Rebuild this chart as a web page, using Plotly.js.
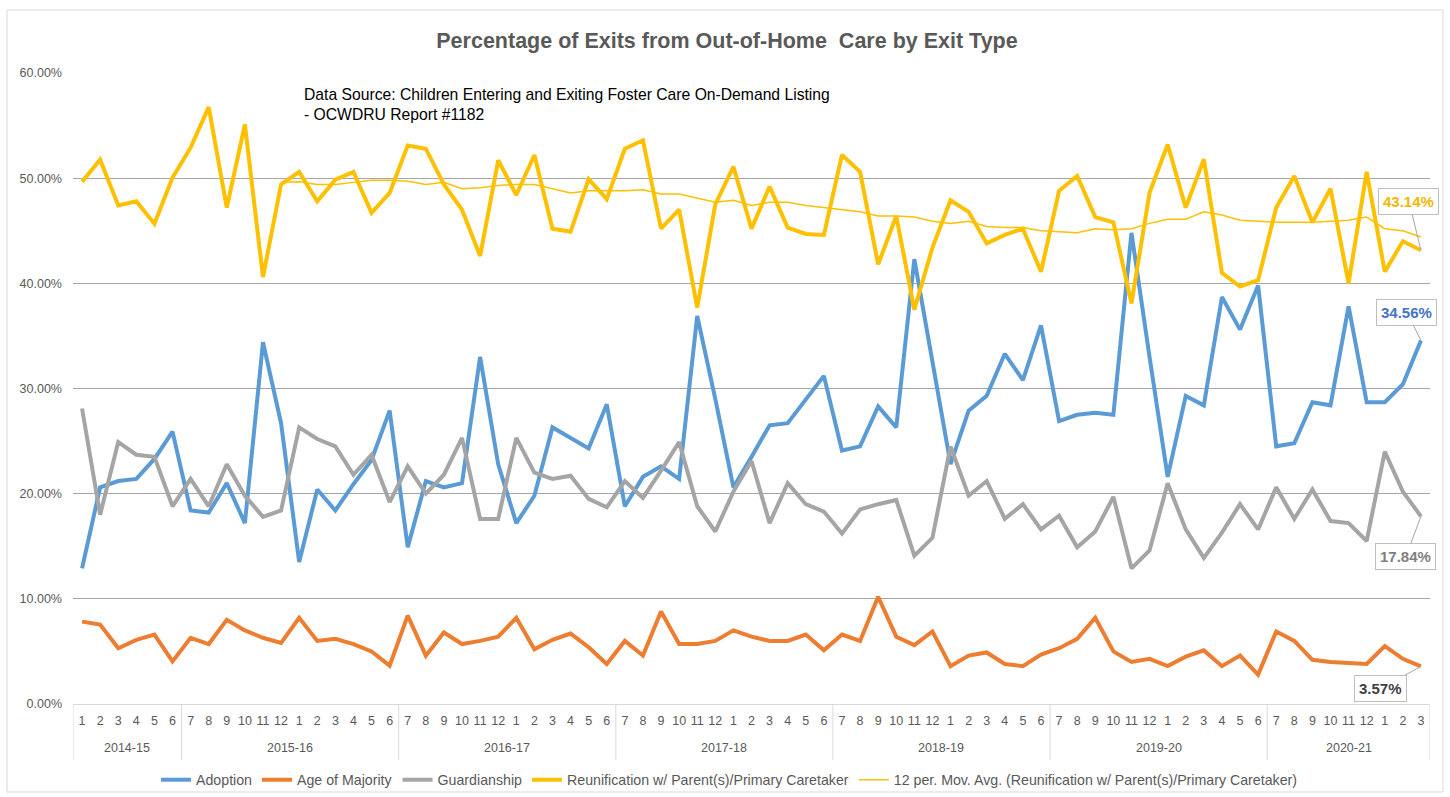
<!DOCTYPE html>
<html>
<head>
<meta charset="utf-8">
<script src="https://cdn.plot.ly/plotly-3.0.1.min.js"></script>
<style>
  html, body { margin: 0; padding: 0; background: #ffffff; }
  #chart { width: 1450px; height: 797px; }
</style>
</head>
<body>
<div id="chart"></div>
<script>
// ---- Data (percent values) ----
const fiscalYears = ['2014-15', '2015-16', '2016-17', '2017-18', '2018-19', '2019-20', '2020-21'];
const fullYearMonths = ['7', '8', '9', '10', '11', '12', '1', '2', '3', '4', '5', '6'];
const firstYearMonths = ['1', '2', '3', '4', '5', '6'];
const lastYearMonths = ['7', '8', '9', '10', '11', '12', '1', '2', '3'];

const adoption = [12.9, 20.6, 21.2, 21.4, 23.3, 25.9, 18.4, 18.2, 21.0, 17.2, 34.4, 26.7,
  13.5, 20.4, 18.4, 20.9, 23.2, 27.9, 14.9, 21.2, 20.6, 21.0, 33.0, 22.8, 17.2,
  19.8, 26.3, 25.3, 24.3, 28.5, 18.8, 21.6, 22.6, 21.4, 36.9, 29.0, 20.6, 23.5,
  26.5, 26.7, 28.9, 31.2, 24.1, 24.5, 28.3, 26.3, 42.3, 32.5, 22.8, 27.9, 29.3,
  33.3, 30.8, 36.0, 26.9, 27.5, 27.7, 27.5, 44.8, 33.0, 21.6, 29.3, 28.4, 38.7,
  35.6, 39.8, 24.5, 24.8, 28.7, 28.4, 37.8, 28.7, 28.7, 30.4, 34.56];

const ageOfMajority = [7.83, 7.55, 5.3, 6.1, 6.6, 4.05, 6.3, 5.7, 8.0, 7.0, 6.3, 5.8,
  8.2, 6.0, 6.2, 5.7, 5.0, 3.65, 8.4, 4.6, 6.8, 5.7, 6.0, 6.4, 8.2,
  5.2, 6.1, 6.7, 5.4, 3.8, 6.0, 4.6, 8.8, 5.7, 5.7, 6.0, 7.0, 6.4,
  6.0, 6.0, 6.6, 5.1, 6.6, 6.0, 10.2, 6.4, 5.6, 6.9, 3.6, 4.6, 4.9,
  3.8, 3.6, 4.7, 5.3, 6.2, 8.2, 5.0, 4.0, 4.3, 3.6, 4.5, 5.1, 3.6,
  4.6, 2.8, 6.9, 6.0, 4.2, 4.0, 3.9, 3.8, 5.5, 4.3, 3.57];

const guardianship = [28.1, 18.0, 24.9, 23.7, 23.5, 18.8, 21.4, 18.8, 22.8, 19.8, 17.8, 18.4,
  26.3, 25.2, 24.5, 21.8, 23.7, 19.2, 22.6, 20.0, 21.8, 25.3, 17.6, 17.6, 25.3,
  22.0, 21.4, 21.7, 19.5, 18.7, 21.2, 19.6, 22.2, 24.9, 18.8, 16.4, 20.2, 23.1,
  17.2, 21.0, 19.0, 18.3, 16.2, 18.5, 19.0, 19.4, 14.1, 15.8, 24.5, 19.8, 21.2,
  17.6, 19.0, 16.6, 17.9, 14.9, 16.4, 19.7, 12.9, 14.6, 21.0, 16.6, 13.9, 16.3,
  19.0, 16.6, 20.6, 17.6, 20.4, 17.4, 17.2, 15.5, 24.0, 20.2, 17.84];

const reunification = [49.65, 51.76, 47.4, 47.8, 45.67, 50.05, 52.9, 56.75, 47.2, 55.1, 40.6, 49.4,
  50.6, 47.8, 49.85, 50.6, 46.7, 48.6, 53.1, 52.8, 49.4, 47.0, 42.6, 51.7, 48.4,
  52.2, 45.2, 44.9, 49.9, 48.0, 52.8, 53.6, 45.2, 47.0, 37.7, 47.5, 51.1, 45.2,
  49.2, 45.3, 44.7, 44.6, 52.2, 50.6, 41.8, 46.4, 37.5, 43.4, 47.9, 46.8, 43.8,
  44.6, 45.2, 41.1, 48.8, 50.2, 46.3, 45.8, 38.1, 48.6, 53.2, 47.2, 51.8, 41.0,
  39.7, 40.3, 47.2, 50.2, 45.8, 49.0, 40.0, 50.6, 41.1, 44.0, 43.14];

const movingAvg = [null, null, null, null, null, null, null, null, null, null, null,
  49.6, 49.65, 49.4, 49.4, 49.6, 49.8, 49.8, 49.7, 49.4, 49.6,
  49.0, 49.1, 49.3, 49.4, 49.4, 49.0, 48.6, 48.8, 48.8, 48.8,
  48.9, 48.5, 48.5, 48.1, 47.7, 47.9, 47.4, 47.7, 47.7, 47.4,
  47.2, 47.0, 46.8, 46.4, 46.4, 46.3, 45.9, 45.7, 45.9, 45.4,
  45.3, 45.3, 45.0, 44.9, 44.8, 45.2, 45.1, 45.2, 45.7, 46.1,
  46.1, 46.8, 46.5, 46.0, 45.9, 45.8, 45.8, 45.8, 45.9, 46.0,
  46.3, 45.2, 45.0, 44.4];

// ---- Build the two-level category positions ----
const monthsByYear = fiscalYears.map(function (fy, i) {
  if (i === 0) return firstYearMonths;
  if (i === fiscalYears.length - 1) return lastYearMonths;
  return fullYearMonths;
});
const monthLevel = [];
const groupStarts = [];
fiscalYears.forEach(function (fy, i) {
  groupStarts.push(monthLevel.length);
  monthsByYear[i].forEach(function (m) { monthLevel.push(m); });
});
const xIdx = monthLevel.map(function (m, i) { return i; });
const nCats = monthLevel.length;

const FONT = 'Liberation Sans, Arial, sans-serif';
const TXT = '#595959';
const C_BLUE = '#5b9bd5', C_ORANGE = '#ed7d31', C_GRAY = '#a5a5a5', C_YELLOW = '#ffc000';

function lineTrace(name, y, color, width) {
  return { type: 'scatter', mode: 'lines', name: name, x: xIdx, y: y,
    line: { color: color, width: width }, connectgaps: false, hoverinfo: 'skip' };
}

const traces = [
  lineTrace('Adoption', adoption, C_BLUE, 4),
  lineTrace('Age of Majority', ageOfMajority, C_ORANGE, 4),
  lineTrace('Guardianship', guardianship, C_GRAY, 4),
  lineTrace('Reunification w/ Parent(s)/Primary Caretaker', reunification, C_YELLOW, 4),
  lineTrace('12 per. Mov. Avg. (Reunification w/ Parent(s)/Primary Caretaker)', movingAvg, C_YELLOW, 1.5)
];

const lastIdx = nCats - 1;
function endLabel(series, color, ax, ay) {
  const v = series[series.length - 1];
  return {
    xref: 'x', yref: 'y', x: lastIdx, y: v,
    text: '<b>' + v.toFixed(2) + '%</b>',
    font: { family: FONT, size: 15, color: color },
    showarrow: true, arrowhead: 0, arrowwidth: 1, arrowcolor: '#a6a6a6',
    ax: ax, ay: ay, standoff: 0,
    bgcolor: '#ffffff', bordercolor: '#bfbfbf', borderwidth: 1, borderpad: 4
  };
}

// Plot area geometry (pixels) used to place paper-referenced items
const PL = 73, PR = 1430, PT = 73, PB = 704;
const PW = PR - PL, PH = PB - PT;
function py(pix) { return (PB - pix) / PH; }
function px(pix) { return (pix - PL) / PW; }

// fiscal-year group labels and dividers
const yearAnnots = fiscalYears.map(function (fy, i) {
  const start = groupStarts[i];
  const end = (i + 1 < groupStarts.length ? groupStarts[i + 1] : nCats) - 1;
  return {
    xref: 'x', yref: 'paper', x: (start + end) / 2, y: py(748),
    text: fy, showarrow: false, xanchor: 'center', yanchor: 'middle',
    font: { family: FONT, size: 12.5, color: TXT }
  };
});
const dividerPositions = groupStarts.map(function (s) { return s - 0.5; }).concat([nCats - 0.5]);
const dividers = dividerPositions.map(function (xv) {
  return { type: 'line', xref: 'x', yref: 'paper', x0: xv, x1: xv, y0: 0, y1: py(760),
    line: { color: '#d9d9d9', width: 1 } };
});

const layout = {
  width: 1450, height: 797,
  paper_bgcolor: '#ffffff', plot_bgcolor: '#ffffff',
  margin: { l: PL, r: 1450 - PR, t: PT, b: 797 - PB, autoexpand: false },
  font: { family: FONT, color: TXT },
  title: {
    text: '<b>Percentage of Exits from Out-of-Home  Care by Exit Type</b>',
    font: { family: FONT, size: 21.5, color: TXT },
    xref: 'container', x: 727 / 1450, xanchor: 'center',
    yref: 'container', y: 1 - 40 / 797, yanchor: 'middle'
  },
  xaxis: {
    type: 'linear', range: [-0.5, nCats - 0.5],
    tickmode: 'array', tickvals: xIdx, ticktext: monthLevel,
    showgrid: false, zeroline: false,
    showline: true, linecolor: '#d9d9d9', linewidth: 1,
    ticks: '', ticklabelstandoff: 5, automargin: false,
    tickfont: { family: FONT, size: 12.5, color: TXT }
  },
  yaxis: {
    range: [0, 60], dtick: 10, tick0: 0,
    tickformat: '.2f', ticksuffix: '%',
    showgrid: true, gridcolor: '#a6a6a6', gridwidth: 1,
    zeroline: false, showline: false, ticks: '',
    ticklabelstandoff: 10, automargin: false,
    tickfont: { family: FONT, size: 12.5, color: TXT }
  },
  showlegend: true,
  legend: {
    orientation: 'h', xref: 'paper', yref: 'paper',
    x: px(729), xanchor: 'center',
    y: py(780), yanchor: 'middle',
    font: { family: FONT, size: 14.2, color: TXT },
    itemwidth: 30, tracegroupgap: 0, bgcolor: 'rgba(0,0,0,0)'
  },
  annotations: [
    {
      xref: 'paper', yref: 'paper',
      x: px(302), y: py(104),
      xanchor: 'left', yanchor: 'middle', align: 'left', showarrow: false,
      text: 'Data Source: Children Entering and Exiting Foster Care On-Demand Listing<br>- OCWDRU Report #1182',
      font: { family: FONT, size: 15.7, color: '#000000' }
    },
    endLabel(reunification, '#f2b800', -12, -49),
    endLabel(adoption, '#4472c4', -14, -28),
    endLabel(guardianship, '#7f7f7f', -15, 40),
    endLabel(ageOfMajority, '#404040', -40, 22)
  ].concat(yearAnnots),
  shapes: [
    { type: 'rect', xref: 'paper', yref: 'paper',
      x0: px(7), x1: px(1443), y0: py(792), y1: py(10),
      line: { color: '#d9d9d9', width: 1 }, fillcolor: 'rgba(0,0,0,0)', layer: 'below' }
  ].concat(dividers)
};

Plotly.newPlot('chart', traces, layout, { staticPlot: true, displayModeBar: false });
</script>
</body>
</html>
